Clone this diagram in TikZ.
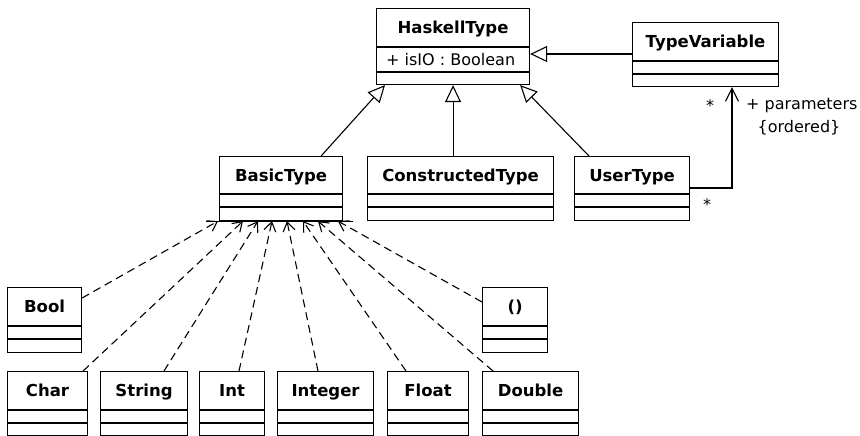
\documentclass[tikz,border=0pt]{standalone}
\usepackage{fontspec}
\setmainfont{DejaVu Sans}
\usetikzlibrary{arrows.meta}
\newcommand{\umlclass}[8]{%
  \node[umlbox, minimum width=#4pt, minimum height=#5pt] (#1) at (#2,#3) {};
  \draw[divider] ([yshift=-#6pt]#1.north west) -- ([yshift=-#6pt]#1.north east);
  \draw[divider] ([yshift=-#7pt]#1.north west) -- ([yshift=-#7pt]#1.north east);
  \node[cname] (#1-name) at ([yshift=-#6pt/2]#1.north) {#8};
}
\tikzset{
  umlbox/.style={draw, line width=1.1pt, inner sep=0pt, anchor=north west},
  divider/.style={line width=1.1pt},
  cname/.style={font=\fontsize{16.5}{19}\selectfont\bfseries, inner sep=0pt, text height=12pt, text depth=0pt},
  txt/.style={font=\fontsize{16}{19}\selectfont, inner sep=0pt, text height=11.6pt, text depth=0pt},
  gen/.style={line width=1.1pt, -{Triangle[open, length=17pt, width=16pt]}},
  dep/.style={line width=1.1pt, dash pattern=on 8pt off 5pt, -{Straight Barb[length=9pt, width=12pt]}},
  assoc/.style={line width=1.1pt, -{Straight Barb[length=13pt, width=13pt]}},
}
\begin{document}
\begin{tikzpicture}[x=1pt,y=-1pt]
\useasboundingbox (0,0) rectangle (860,436);

% classes: name, x, y, w, h, divider1, divider2, label
\umlclass{haskell}{376}{8}{153}{76}{39}{64}{HaskellType}
\node[txt, anchor=west] (haskell-attr) at ([xshift=10pt, yshift=-51.5pt]haskell.north west) {+ isIO : Boolean};
\umlclass{typevar}{632}{22}{146}{64}{39}{52}{TypeVariable}
\umlclass{basic}{219}{156}{123}{64}{38}{51}{BasicType}
\umlclass{constructed}{367}{156}{186}{64}{38}{51}{ConstructedType}
\umlclass{user}{574}{156}{115}{64}{38}{51}{UserType}
\umlclass{bool}{7}{287}{74}{65}{39}{52}{Bool}
\umlclass{unit}{482}{287}{65}{65}{39}{52}{()}
\umlclass{char}{7}{371}{80}{64}{39}{52}{Char}
\umlclass{string}{100}{371}{87}{64}{39}{52}{String}
\umlclass{int}{199}{371}{65}{64}{39}{52}{Int}
\umlclass{integer}{277}{371}{96}{64}{39}{52}{Integer}
\umlclass{float}{387}{371}{81}{64}{39}{52}{Float}
\umlclass{double}{482}{371}{96}{64}{39}{52}{Double}

% generalizations
\coordinate (tvl) at ([yshift=-32pt]typevar.north west);
\draw[gen] (tvl) -- (tvl -| haskell.east);
\draw[gen] ([xshift=-22pt]basic.north east) -- ([xshift=9pt]haskell.south west);
\draw[gen] (haskell.south |- constructed.north) -- (haskell.south);
\draw[gen] ([xshift=15pt]user.north west) -- ([xshift=-10pt]haskell.south east);

% association
\coordinate (ustart) at ([yshift=-32pt]user.north east);
\coordinate (aend) at ([xshift=100pt]typevar.south west);
\draw[assoc] (ustart) -| (aend);
\node[txt] (mult1) at (710,106) {*};
\node[txt, anchor=west] (role) at (746,104) {+ parameters};
\node[txt] (ordered) at (799,127) {\{ordered\}};
\node[txt] (mult2) at (707,205) {*};

% realizations to BasicType
\draw[line width=1.1pt] ([xshift=-13pt]basic.south west) -- ([xshift=10pt]basic.south east);
\coordinate (bt1) at ([xshift=-1pt]basic.south west);
\coordinate (bt2) at ([xshift=24pt]basic.south west);
\coordinate (bt3) at ([xshift=39pt]basic.south west);
\coordinate (bt4) at ([xshift=53pt]basic.south west);
\coordinate (bt5) at ([xshift=68pt]basic.south west);
\coordinate (bt6) at ([xshift=84pt]basic.south west);
\coordinate (bt7) at ([xshift=99pt]basic.south west);
\coordinate (bt8) at ([xshift=119pt]basic.south west);
\draw[dep] ([yshift=-11pt]bool.north east) -- (bt1);
\draw[dep] ([xshift=-5pt]char.north east) -- (bt2);
\draw[dep] ([xshift=64pt]string.north west) -- (bt3);
\draw[dep] ([xshift=40pt]int.north west) -- (bt4);
\draw[dep] ([xshift=41pt]integer.north west) -- (bt5);
\draw[dep] ([xshift=19pt]float.north west) -- (bt6);
\draw[dep] ([xshift=11pt]double.north west) -- (bt7);
\draw[dep] ([yshift=-15pt]unit.north west) -- (bt8);
\end{tikzpicture}
\end{document}
